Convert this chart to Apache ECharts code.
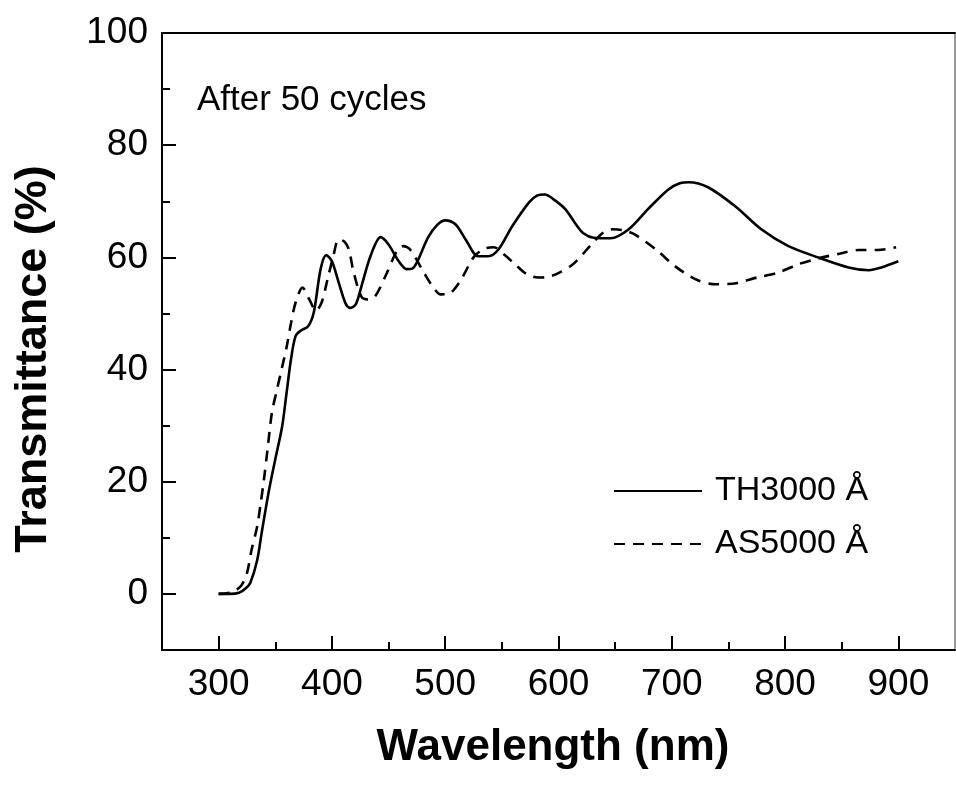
<!DOCTYPE html>
<html>
<head>
<meta charset="utf-8">
<script src="https://cdn.jsdelivr.net/npm/echarts@6/dist/echarts.min.js"></script>
<style>
html,body{margin:0;padding:0;background:#fff;}
#chart{width:956px;height:787px;}
</style>
</head>
<body>
<div id="chart"></div>
<script>
// ---- data ----
const thWavelength = [300,310,318,324,328,334,338,344,350,356,360,364,368,373,379,384,390,395,400,406,412,416,421,426,434,443,450,459,466,471,475,485,493,500,509,518,529,538,547,559,574,581,588,596,606,615,622,631,646,662,679,697,707,715,732,756,779,803,829,856,874,885,900];
const thTransmittance = [0,0,0.2,1,2,6,10.9,18,24,29.8,35.9,42,46,47,47.7,50.2,57.9,60.4,59.3,55.5,51.8,51,51.6,54.8,60.2,63.6,62.3,59.3,57.9,58,59.1,63.6,65.8,66.6,65.9,63.2,60.2,60.2,61.4,65.5,69.8,71,71.2,70.3,68.6,66,64.3,63.5,63.4,65,68.6,72.1,73.2,73.4,72.5,69.1,65,62,60,58.2,57.7,58.2,59.3];

const asWavelength = [300,312,320,325,329,334,337,340,343,347,351,356,360,364,368,374,380,386,391,396,401,406,411,415,419,426,432,438,448,457,463,469,482,490,496,503,513,525,534,543,552,562,572,582,590,598,613,629,640,648,658,668,686,703,722,739,757,775,794,812,829,849,865,882,898];
const asTransmittance = [0,0.3,1.5,3.7,7.8,12,16,20.4,25.5,32.3,36,40.4,44,48.4,52,54.6,52.5,50.5,52,56,60,63.2,62.8,61.4,57.5,53,52.5,53,57,61,62,61.4,57,54.5,53.4,53.5,55.7,60,61.5,61.8,60.5,58.7,57,56.4,56.5,57,58.8,62.3,64.5,65,64.8,64,61.4,58.4,56,55.2,55.4,56.4,57.3,58.8,59.8,60.7,61.3,61.3,61.8];

const seriesNames = ['TH3000 \u00C5', 'AS5000 \u00C5'];
const xMajorTicks = [300,400,500,600,700,800,900];
const xMinorTicks = [350,450,550,650,750,850];
const yMajorTicks = [0,20,40,60,80,100];
const yMinorTicks = [10,30,50,70,90];
const xTitle = 'Wavelength (nm)';
const yTitle = 'Transmittance (%)';
const noteText = 'After 50 cycles';

// ---- chart ----
const FONT = "'Liberation Sans', Arial, Helvetica, sans-serif";
const pair = (xs, ys) => xs.map((x, i) => [x, ys[i]]);
const axisLineStyle = {color:'#000', width:2};
const tickLine = {color:'#000', width:2};

const chart = echarts.init(document.getElementById('chart'), null, {renderer:'canvas'});
chart.setOption({
  backgroundColor:'#fff',
  animation:false,
  grid:{left:162, top:33, width:793, height:617, containLabel:false},
  xAxis:[
    {type:'value', min:250, max:950, position:'bottom',
     axisLine:{show:true, onZero:false, lineStyle:axisLineStyle},
     axisTick:{show:true, inside:true, length:14, customValues:xMajorTicks, lineStyle:tickLine},
     axisLabel:{show:true, customValues:xMajorTicks, fontSize:37, color:'#000', fontFamily:FONT, margin:16},
     splitLine:{show:false}},
    {type:'value', min:250, max:950, position:'bottom',
     axisLine:{show:false, onZero:false},
     axisTick:{show:true, inside:true, length:8, customValues:xMinorTicks, lineStyle:tickLine},
     axisLabel:{show:false}, splitLine:{show:false}},
    {type:'value', min:250, max:950, position:'top',
     axisLine:{show:true, onZero:false, lineStyle:axisLineStyle},
     axisTick:{show:false}, axisLabel:{show:false}, splitLine:{show:false}}
  ],
  yAxis:[
    {type:'value', min:-10, max:100, position:'left',
     axisLine:{show:true, onZero:false, lineStyle:axisLineStyle},
     axisTick:{show:true, inside:true, length:14, customValues:yMajorTicks, lineStyle:tickLine},
     axisLabel:{show:true, customValues:yMajorTicks, fontSize:37, color:'#000', fontFamily:FONT, margin:14},
     splitLine:{show:false}},
    {type:'value', min:-10, max:100, position:'left',
     axisLine:{show:false, onZero:false},
     axisTick:{show:true, inside:true, length:8, customValues:yMinorTicks, lineStyle:tickLine},
     axisLabel:{show:false}, splitLine:{show:false}},
    {type:'value', min:-10, max:100, position:'right',
     axisLine:{show:true, onZero:false, lineStyle:{color:'#777', width:1.5}},
     axisTick:{show:false}, axisLabel:{show:false}, splitLine:{show:false}}
  ],
  legend:{
    orient:'vertical', left:613, top:474, padding:0, itemGap:19, itemWidth:88, itemHeight:34,
    data:seriesNames,
    itemStyle:{opacity:0},
    textStyle:{fontSize:34, color:'#000', fontFamily:FONT, padding:[0,0,0,8], lineHeight:34}
  },
  series:[
    {name:seriesNames[0], type:'line', xAxisIndex:0, yAxisIndex:0, data:pair(thWavelength, thTransmittance),
     symbol:'none', smooth:0.3, lineStyle:{color:'#000', width:2.6, type:'solid'}, itemStyle:{color:'#000'}},
    {name:seriesNames[1], type:'line', xAxisIndex:0, yAxisIndex:0, data:pair(asWavelength, asTransmittance),
     symbol:'none', smooth:0.3, lineStyle:{color:'#000', width:2.6, type:[11,8]}, itemStyle:{color:'#000'}}
  ],
  graphic:[
    {type:'text', x:197, y:100, style:{text:noteText, font:"35px " + FONT, fill:'#000', textAlign:'left', textVerticalAlign:'middle'}},
    {type:'text', x:553, y:748, style:{text:xTitle, font:"bold 44px " + FONT, fill:'#000', textAlign:'center', textVerticalAlign:'middle'}},
    {type:'text', x:34, y:359, rotation:Math.PI/2, style:{text:yTitle, font:"bold 45px " + FONT, fill:'#000', textAlign:'center', textVerticalAlign:'middle'}}
  ]
});
</script>
</body>
</html>
